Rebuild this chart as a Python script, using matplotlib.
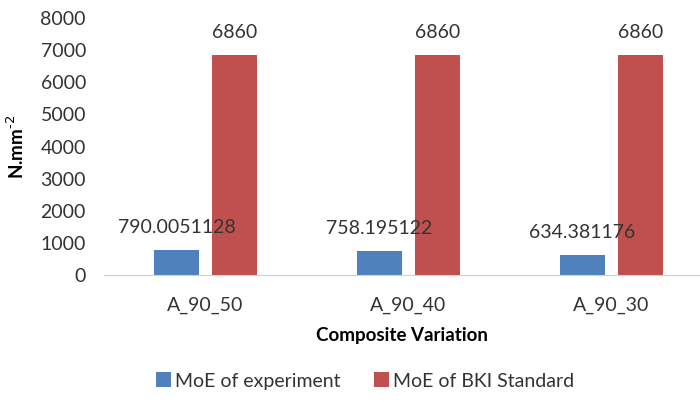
import matplotlib

matplotlib.use("Agg")
import matplotlib.pyplot as plt
import numpy as np

categories = ["A_90_50", "A_90_40", "A_90_30"]
moe_experiment = [790.0051128, 758.195122, 634.381176]
moe_standard = [6860, 6860, 6860]
exp_labels = ["790.0051128", "758.195122", "634.381176"]
std_labels = ["6860", "6860", "6860"]
y_ticks = [0, 1000, 2000, 3000, 4000, 5000, 6000, 7000, 8000]

blue = "#4F81BD"
red = "#C0504D"
text_color = "#333333"

plt.rcParams["font.family"] = ["Lato", "DejaVu Sans"]

fig = plt.figure(figsize=(7.0, 4.05), dpi=100)
ax = fig.add_axes([104 / 700, 1 - 275 / 405, 596 / 700, 257 / 405])

x = np.arange(len(categories))
width = 0.225
offset = 0.143
bars_exp = ax.bar(x - offset, moe_experiment, width, color=blue, label="MoE of experiment")
bars_std = ax.bar(x + offset, moe_standard, width, color=red, label="MoE of BKI Standard")

for bar, text in zip(bars_exp, exp_labels):
    ax.annotate(text, (bar.get_x() + bar.get_width() / 2, bar.get_height()),
                xytext=(0, 16), textcoords="offset points", ha="center", va="center",
                fontsize=14, color=text_color)
for bar, text in zip(bars_std, std_labels):
    ax.annotate(text, (bar.get_x() + bar.get_width() / 2, bar.get_height()),
                xytext=(0, 16), textcoords="offset points", ha="center", va="center",
                fontsize=14, color=text_color)

ax.set_xlim(-0.5, -0.5 + 596 / 203)
ax.set_ylim(0, 8000)
ax.set_yticks(y_ticks)
ax.set_xticks(x)
ax.set_xticklabels(categories)
ax.tick_params(axis="y", length=0, pad=13, labelsize=14, labelcolor=text_color)
ax.tick_params(axis="x", length=0, pad=16, labelsize=14, labelcolor=text_color)

for side in ["top", "right", "left"]:
    ax.spines[side].set_visible(False)
ax.spines["bottom"].set_color("#d0d0d0")

ax.set_ylabel("N.mm$^{\\text{-}2}$", fontsize=13.5, fontweight="bold", color="black", labelpad=10)
ax.set_xlabel("Composite Variation", fontsize=13.5, fontweight="bold", color="black", labelpad=9)

fig.legend(handles=[bars_exp, bars_std], loc="center", bbox_to_anchor=(365 / 700, 1 - 381 / 405),
           ncol=2, frameon=False, fontsize=14, handlelength=0.78, handleheight=0.78,
           columnspacing=1.7, handletextpad=0.2, labelcolor=text_color)

fig.savefig("out.png", dpi=100)
